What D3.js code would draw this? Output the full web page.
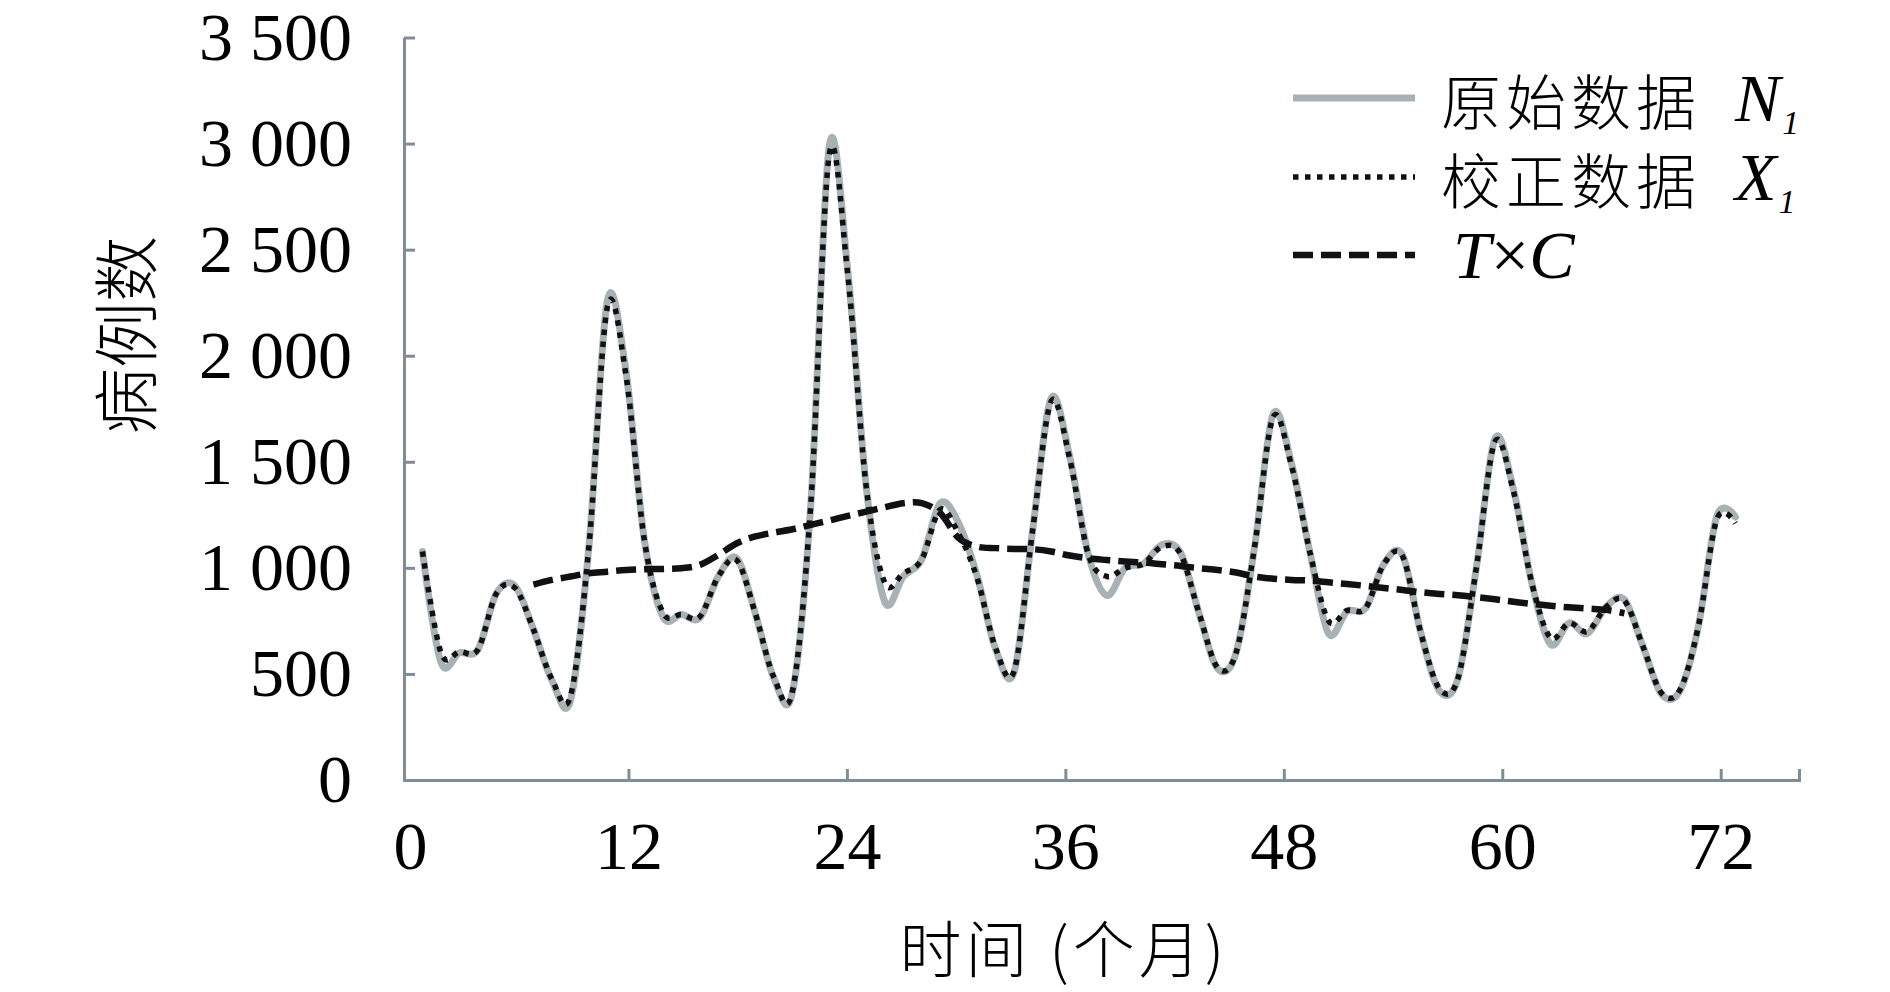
<!DOCTYPE html>
<html>
<head>
<meta charset="utf-8">
<script src="https://cdn.jsdelivr.net/npm/d3@7"></script>
<style>
  html, body { margin: 0; padding: 0; background: #fff; }
  svg { display: block; }
</style>
</head>
<body>
<svg id="chart" width="1890" height="992"></svg>
<script>
// ---- data ----
const months = d3.range(1, 73);           // months 1..72
const N1 = [1077, 555, 600, 615, 880, 915, 710, 470, 375, 1100, 2260, 1930,
            1130, 770, 780, 765, 960, 1045, 785, 480, 410, 1300, 2990, 2400,
            1380, 840, 960, 1040, 1305, 1210, 960, 615, 510, 1180, 1800, 1525,
            1065, 870, 1000, 1020, 1110, 1070, 785, 525, 600, 1100, 1725, 1490,
            1070, 690, 795, 810, 1020, 1060, 690, 420, 480, 1005, 1610, 1370,
            925, 640, 740, 690, 815, 850, 630, 405, 420, 725, 1245, 1240];
const X1 = [1077, 600, 605, 615, 880, 905, 710, 475, 395, 1100, 2230, 1910,
            1130, 790, 780, 770, 960, 1035, 785, 485, 415, 1300, 2950, 2380,
            1380, 930, 975, 1040, 1275, 1160, 950, 620, 515, 1180, 1785, 1515,
            1065, 960, 1000, 1020, 1100, 1065, 785, 530, 600, 1100, 1710, 1480,
            1070, 750, 800, 810, 1020, 1055, 690, 430, 480, 1005, 1595, 1360,
            925, 670, 740, 700, 815, 845, 630, 410, 425, 725, 1230, 1210];
const tcMonths = d3.range(7, 67);         // months 7..66
const TC = [921, 943, 959, 975, 982, 990, 994, 995, 998, 1014, 1061, 1116,
            1148, 1166, 1182, 1203, 1223, 1245, 1265, 1286, 1305, 1305, 1258, 1140,
            1100, 1093, 1089, 1088, 1077, 1058, 1045, 1037, 1030, 1025, 1017, 1009,
            998, 990, 978, 959, 949, 943, 940, 932, 924, 915, 905, 896,
            885, 877, 871, 862, 852, 840, 830, 821, 814, 808, 802, 786];
const xTicks = [0, 12, 24, 36, 48, 60, 72];
const yTicks = [0, 500, 1000, 1500, 2000, 2500, 3000, 3500];
const legendLabels = [
  {cn: "原始数据", sym: "N", sub: "1", key: "N1"},
  {cn: "校正数据", sym: "X", sub: "1", key: "X1"},
  {cn: "", sym: "T×C", sub: "", key: "TC"}
];

// ---- layout ----
const svg = d3.select("#chart");
const plotLeft = 404, plotRight = 1799, plotTop = 37.5, plotBottom = 780;
const axisColor = "#7f8e96";
const grayColor = "#a8b2b5";
const serif = "'Liberation Serif', 'Times New Roman', serif";
const cjk = "'Noto Sans CJK SC', sans-serif";

const x = d3.scaleLinear().domain([0, 75.44]).range([plotLeft, plotRight]);     // data positions
const xAxisScale = d3.scaleLinear().domain([-0.33, 76.3]).range([plotLeft, plotRight]); // tick labels
const y = d3.scaleLinear().domain([0, 3500]).range([plotBottom, plotTop]);

const fmt = d => d >= 1000 ? `${Math.floor(d / 1000)} ${String(d % 1000).padStart(3, "0")}` : String(d);

// y axis
const yAxis = svg.append("g")
  .attr("transform", `translate(${plotLeft},0)`)
  .call(d3.axisLeft(y).tickValues(yTicks).tickFormat(fmt)
        .tickSizeInner(-11).tickSizeOuter(0).tickPadding(52));
// x axis
const xAxis = svg.append("g")
  .attr("transform", `translate(0,${plotBottom})`)
  .call(d3.axisBottom(xAxisScale).tickValues(xTicks).tickFormat(d3.format("d"))
        .tickSizeInner(-11).tickSizeOuter(-11).tickPadding(41));
xAxis.selectAll(".tick").filter(d => d === 0).select("line").remove();

[yAxis, xAxis].forEach(g => {
  g.selectAll("path, line").attr("stroke", axisColor).attr("stroke-width", 3);
  g.selectAll("text").attr("font-family", serif).attr("font-size", 68).attr("fill", "#000");
});

// lines
const curve = d3.curveCardinal.tension(0);
const lineFrom = (xs, vs) => d3.line().x((d, i) => x(xs[i])).y(d => y(d)).curve(curve)(vs);

const styles = {
  N1: {stroke: grayColor, width: 7, dash: null},
  X1: {stroke: "#111", width: 5.5, dash: "5.5 6.5"},
  TC: {stroke: "#111", width: 6.5, dash: "20 8"}
};

svg.append("path").attr("d", lineFrom(months, N1))
  .attr("fill", "none").attr("stroke", styles.N1.stroke).attr("stroke-width", styles.N1.width)
  .attr("stroke-linejoin", "round").attr("stroke-linecap", "round");
svg.append("path").attr("d", lineFrom(months, X1))
  .attr("fill", "none").attr("stroke", styles.X1.stroke).attr("stroke-width", styles.X1.width)
  .attr("stroke-dasharray", styles.X1.dash);
svg.append("path").attr("d", lineFrom(tcMonths, TC))
  .attr("fill", "none").attr("stroke", styles.TC.stroke).attr("stroke-width", styles.TC.width)
  .attr("stroke-dasharray", styles.TC.dash);

// axis titles
svg.append("text")
  .attr("transform", "translate(122,335) rotate(-90)")
  .attr("text-anchor", "middle").attr("dominant-baseline", "central")
  .attr("font-family", cjk).attr("font-weight", 300).attr("font-size", 66)
  .text("病例数");
svg.append("text")
  .attr("x", 1064).attr("y", 946)
  .attr("text-anchor", "middle").attr("dominant-baseline", "central")
  .attr("font-family", cjk).attr("font-weight", 300).attr("font-size", 62)
  .attr("letter-spacing", 4)
  .text("时间 (个月)");

// legend
const legend = svg.append("g").attr("transform", "translate(1293,0)");
const rowY = [98, 177, 255];
legendLabels.forEach((L, i) => {
  const s = styles[L.key];
  const g = legend.append("g").attr("transform", `translate(0,${rowY[i]})`);
  g.append("line").attr("x1", 0).attr("x2", 122).attr("y1", 0).attr("y2", 0)
    .attr("stroke", s.stroke).attr("stroke-width", s.width)
    .attr("stroke-dasharray", s.dash);
  const t = g.append("text").attr("x", 148).attr("y", 0).attr("dominant-baseline", "central");
  if (L.cn) {
    t.append("tspan").attr("font-family", cjk).attr("font-weight", 300)
      .attr("font-size", 60).attr("letter-spacing", 5).text(L.cn);
    t.append("tspan").attr("font-family", serif).attr("font-style", "italic")
      .attr("font-size", 68).attr("dx", 34).text(L.sym);
    t.append("tspan").attr("font-family", serif).attr("font-style", "italic")
      .attr("font-size", 34).attr("dx", 2).attr("dy", 24).text(L.sub);
  } else {
    t.append("tspan").attr("font-family", serif).attr("font-size", 68)
      .attr("dx", 12)
      .html('<tspan font-style="italic">T</tspan>×<tspan font-style="italic">C</tspan>');
  }
});
</script>
</body>
</html>
